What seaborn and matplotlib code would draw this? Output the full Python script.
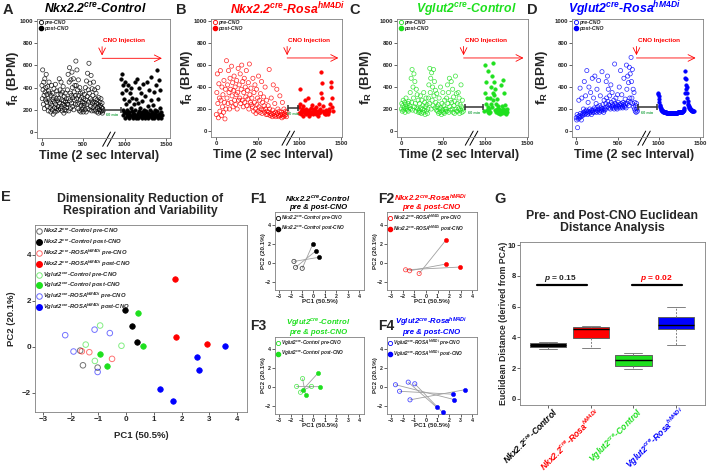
import numpy as np
import pandas as pd
import seaborn as sns
import matplotlib.pyplot as plt
import matplotlib.transforms as mtransforms
from matplotlib.lines import Line2D

sns.set_theme(style="ticks")
plt.rcParams['font.family'] = ['Liberation Sans', 'DejaVu Sans']
plt.rcParams['font.weight'] = 'bold'
plt.rcParams['axes.labelweight'] = 'bold'
plt.rcParams['mathtext.fontset'] = 'custom'
plt.rcParams['mathtext.it'] = 'Liberation Sans:italic:bold'
plt.rcParams['mathtext.rm'] = 'Liberation Sans:bold'
plt.rcParams['mathtext.bf'] = 'Liberation Sans:bold'

BLACK, RED, GREEN, BLUE = '#000000', '#ff0000', '#1ee01e', '#0000ff'

# ---- A-D : respiratory rate (BPM), pre / post CNO ----
a_pre = [420, 300, 560, 380, 250, 450, 330, 210, 480, 360, 290, 400, 520, 270, 340, 230, 410, 300, 190, 370, 450, 280, 350, 220,
         260, 180, 330, 420, 240, 200, 350, 290, 160, 310, 390, 220, 270, 180, 430, 250, 300, 210, 370, 190, 280, 340, 230, 200,
         300, 480, 260, 380, 210, 340, 450, 230, 290, 190, 360, 250, 410, 280, 170, 320, 240, 200, 350, 270, 190, 300, 220, 250,
         380, 250, 520, 300, 190, 450, 580, 280, 350, 210, 470, 330, 260, 540, 400, 230, 310, 480, 200, 360, 290, 420, 250, 330,
         640, 420, 300, 560, 250, 380, 210, 470, 330, 260, 190, 400, 290, 350, 180, 240, 310, 200, 270, 360, 220, 180, 300, 240,
         260, 340, 200, 400, 290, 180, 460, 250, 320, 530, 210, 380, 270, 620, 350, 200, 440, 300, 230, 510, 280, 190, 390, 260,
         330, 220, 450, 270, 190, 380, 240, 300, 200, 350, 260, 180, 290, 220, 400, 250, 170, 310, 230, 200, 270, 180, 240, 300,
         190, 220, 260, 170, 210, 190]
a_post = [480, 520, 350, 200, 420, 150, 300, 180, 450, 130, 250, 170, 380, 140, 200,
          160, 420, 130, 280, 180, 350, 150, 220, 400, 140, 190, 310, 130, 170, 250, 160, 450, 140, 200, 130,
          300, 150, 480, 170, 130, 260, 190, 400, 140, 220, 160, 350, 130, 180, 280, 150, 430, 140, 200, 170,
          130, 320, 160, 190, 140, 450, 170, 230, 130, 380, 150, 200, 140, 290, 160, 500, 130, 180, 240, 150,
          140, 360, 130, 200, 170, 420, 140, 560, 190, 150, 300, 130, 470, 160, 220, 140, 380, 130, 180, 150]

b_pre = [150, 350, 520, 250, 120, 430, 300, 180, 550, 280, 140, 400, 220, 330, 170, 460, 260, 110, 380, 200,
         640, 300, 420, 250, 550, 350, 200, 480, 380, 260, 590, 320, 440, 220, 370, 500, 280, 400, 240, 330, 460, 200, 350, 570, 280,
         420, 300, 520, 250, 380, 600, 280, 450, 220, 350, 480, 260, 400, 310, 550, 230, 370, 290, 440, 200, 610, 330, 260, 390, 240,
         300, 220, 480, 180, 350, 260, 420, 200, 160, 380, 240, 300, 180, 500, 220, 280, 170, 340, 200, 450, 160, 260, 190, 310, 230,
         170, 400, 200, 150, 280,
         180, 150, 230, 170, 560, 200, 140, 160, 300, 150, 130, 190, 420, 160, 140, 250, 170, 130, 150, 380, 160, 200, 140, 130,
         180, 320, 150, 140, 170, 120, 260, 150, 130, 200, 160, 140, 180, 150, 130, 170]
b_post = [220, 160, 380, 250, 180, 150, 200, 170, 140, 230, 190, 160, 280, 150, 200, 170, 180, 300, 160, 140,
          190, 150, 210, 170, 160, 240, 180, 150, 200, 170, 160, 190, 150, 220, 170, 140, 180, 160, 250, 170,
          200, 350, 540, 440, 300, 230, 180, 160, 150, 170, 190, 150,
          160, 180, 150, 170, 200, 180, 250, 400, 450, 300, 220, 180]

c_pre = [200, 250, 180, 230, 280, 190, 210, 260, 170, 240, 300, 200, 220, 190, 250, 180, 270, 210,
         230, 350, 200, 480, 260, 560, 190, 400, 300, 520, 220, 450, 250, 180, 380, 210, 330, 200, 280, 170,
         190, 250, 170, 320, 210, 160, 280, 200, 230, 170, 350, 190, 260, 150, 220, 300, 180, 240, 160, 200,
         300, 420, 250, 570, 350, 480, 200, 530, 280, 400, 230, 560, 320, 450, 210, 370, 260, 190, 340, 220,
         180, 240, 160, 300, 200, 170, 400, 210, 150, 250, 190, 350, 170, 230, 160, 280, 200, 180,
         200, 300, 180, 420, 250, 350, 170, 480, 220, 280, 190, 450, 260, 200, 380, 170, 310, 230, 160, 270, 500, 200, 340, 180,
         250, 180, 350, 200, 300, 160, 240, 190, 420, 220, 170, 280, 200, 180]
c_post = [180, 350, 600, 250, 450, 190, 300, 170, 550, 220, 160,
          200, 170, 300, 250, 400, 220, 500, 350, 620, 280, 450, 330, 190, 380, 250, 170, 290, 200, 160, 230,
          170, 200, 160, 190, 150, 420, 180, 230, 160, 460, 200, 170, 350, 190, 160, 240, 180, 150, 200, 170]

d_pre = [120, 100, 150, 30, 130, 110, 280, 140, 120, 390, 160, 130, 100, 300, 150, 140,
         160, 200, 170, 450, 150, 180, 320, 160, 190, 550, 170, 150, 260, 180, 400, 160, 200, 170, 350, 180, 150, 190, 480, 170,
         190, 300, 170, 210, 500, 180, 200, 250, 170, 380, 190, 220, 180, 460, 200, 170, 230, 320, 190, 210, 180, 540, 200, 240,
         190, 170, 280, 210, 190, 200,
         250, 450, 300, 220, 500, 270, 380, 240, 210, 320, 230, 200, 420, 260, 220, 350, 240, 210, 230, 280, 200, 610, 250, 220,
         300, 210, 240, 200, 330, 230,
         260, 220, 400, 240, 210, 550, 250, 230, 330, 220, 210, 260, 240, 480, 230, 220, 290, 250, 210, 600, 380, 250, 500, 270,
         440, 230, 580, 300, 520, 260,
         670, 450, 300, 560, 250, 380, 220, 350, 200, 260, 180, 230, 170, 250, 200, 180]
d_post = [340, 350, 320, 290, 260, 240, 225, 215, 205, 198, 192, 188, 185, 182, 180,
          178, 176, 175, 174, 172, 171, 170, 170, 169, 168, 168, 167, 167, 166, 166, 166, 165, 165, 165, 165, 164, 164, 164, 164,
          164, 165, 165, 165, 165, 165, 165, 166, 166, 166, 166, 166, 167, 167, 167, 168, 168, 168, 168, 169, 169, 169, 170, 170,
          170, 171, 171, 172, 172, 173, 174, 175, 176, 178, 180, 185,
          195, 210, 260, 350, 550, 480, 380, 420, 470, 400, 350, 300, 270, 250, 235, 225, 215, 210, 205, 200, 198, 195, 192, 190,
          188, 186, 184, 182, 180, 178]

# time spans (2 s samples) of the recordings
a_span = [(0, 740), (960, 1450)]
b_span = [(0, 850), (990, 1400)]
c_span = [(0, 740), (990, 1265)]
d_span = [(0, 740), (990, 1420)]
cno_time = [728, 852, 743, 729]

# ---- E / F : PCA scores ----
nc_pre_pc1, nc_pre_pc2 = [-1.66, -1.56, -1.03], [-0.16, -0.80, -0.90]
nc_post_pc1, nc_post_pc2 = [-0.04, 0.22, 0.39], [1.60, 0.93, 0.23]
nr_pre_pc1, nr_pre_pc2 = [-1.60, -1.33, -0.51], [-0.19, -0.23, -0.52]
nr_post_pc1, nr_post_pc2 = [1.77, 1.78, 2.93], [2.94, 0.42, 0.13]
vc_pre_pc1, vc_pre_pc2 = [-0.94, -1.46, -0.17, -1.13], [0.93, 0.10, 0.05, -0.61]
vc_post_pc1, vc_post_pc2 = [0.41, 0.59, -0.94, -0.69], [1.48, 0.03, -0.29, -0.84]
vr_pre_pc1, vr_pre_pc2 = [-2.20, -1.14, -0.59, -1.90, -1.03], [0.51, 0.75, 0.60, -0.20, -1.09]
vr_post_pc1, vr_post_pc2 = [3.57, 2.57, 2.64, 1.22, 1.69], [0.03, -0.46, -1.00, -1.83, -2.35]

# F panels (pre[i] paired with post[i])
f1_pre_pc1, f1_pre_pc2 = [-1.70, -1.56, -0.98], [0.17, -0.45, -0.55]
f1_post_pc1, f1_post_pc2 = [0.46, 0.23, -0.06], [0.59, 1.28, 1.97]
f2_pre_pc1, f2_pre_pc2 = [-1.75, -1.40, -0.58], [-0.70, -0.80, -1.09]
f2_post_pc1, f2_post_pc2 = [2.90, 1.75, 1.75], [-0.42, -0.10, 2.42]
f3_pre_pc1, f3_pre_pc2 = [-0.95, -1.47, -0.17, -1.13], [0.93, 0.10, 0.10, -0.52]
f3_post_pc1, f3_post_pc2 = [-0.69, 0.58, -0.90, 0.43], [-0.79, 0.07, -0.28, 1.55]
f4_pre_pc1, f4_pre_pc2 = [-2.62, -2.27, -1.52, -0.96, -1.37], [0.28, -0.41, 0.55, 0.38, -1.31]
f4_post_pc1, f4_post_pc2 = [2.42, 2.36, 0.93, 1.43, 3.38], [-1.28, -0.72, -2.10, -2.62, -0.24]

# ---- G : euclidean distances ----
g_groups = ['Nkx2.2 Control', 'Nkx2.2 Rosa', 'Vglut2 Control', 'Vglut2 Rosa']
dist_nkx_ctrl = [3.23, 3.49, 3.72]
dist_nkx_rosa = [3.32, 4.56, 4.73]
dist_vg_ctrl = [1.93, 2.21, 2.85, 2.97]
dist_vg_rosa = [3.50, 4.55, 4.80, 5.30, 5.95]

nkx_ctrl = r"Nkx2.2$^{cre}$-Control"
nkx_rosa = r"Nkx2.2$^{cre}$-Rosa$^{hM4Di}$"
vg_ctrl = r"Vglut2$^{cre}$-Control"
vg_rosa = r"Vglut2$^{cre}$-Rosa$^{hM4Di}$"

W, H = 709, 471
fig = plt.figure(figsize=(W / 100, H / 100), dpi=100)


def add_box(l, t, r, b):
    return fig.add_axes([l / W, 1 - b / H, (r - l) / W, (b - t) / H])


def frame(ax, size):
    for s in ax.spines.values():
        s.set_color('#808080')
        s.set_linewidth(0.6)
    ax.tick_params(labelsize=size, length=2, width=0.5, pad=1)


# ---------------- A-D ----------------
trace_boxes = [(37, 19, 170, 138), (211, 19, 342, 137), (397, 19, 528, 137), (572, 19, 703, 137)]
trace_data = [(a_pre, a_post, a_span), (b_pre, b_post, b_span), (c_pre, c_post, c_span), (d_pre, d_post, d_span)]
trace_colors = [BLACK, RED, GREEN, BLUE]
trace_titles = [nkx_ctrl, nkx_rosa, vg_ctrl, vg_rosa]
title_x = [95, 287, 466, 624]
letter_x = [8, 181, 355, 532]
xlims = [(-60, 1550), (-64, 1512), (-52, 1512), (-52, 1535)]
gaps = [(748, 956, 200), (868, 988, 209), (755, 975, 215), (746, 972, 215)]
arrow_end = [1452, 1468, 1459, 1446]
breaks = [735, 790, 763, 746]
ylab_x = [-0.12, -0.12, -0.175, -0.17]

for i in range(4):
    ax = add_box(*trace_boxes[i])
    pre, post, span = trace_data[i]
    col = trace_colors[i]
    x_pre = np.linspace(span[0][0], span[0][1], len(pre))
    x_post = np.linspace(span[1][0], span[1][1], len(post))
    sns.scatterplot(x=x_pre, y=pre, ax=ax, s=9, facecolors='none', edgecolor=col, linewidth=0.5, alpha=0.85)
    sns.scatterplot(x=x_post, y=post, ax=ax, s=7, color=col, edgecolor=col, linewidth=0.3)
    ax.set_xlim(*xlims[i])
    ax.set_ylim(-55, 1020)
    ax.set_xticks([0, 500, 1000, 1500])
    ax.set_yticks([0, 200, 400, 600, 800, 1000])
    frame(ax, 4.3)
    ax.set_xlabel('Time (2 sec Interval)', fontsize=9)
    ax.xaxis.set_label_coords(0.47, -0.1)
    ax.set_ylabel(r'f$_{\mathrm{R}}$ (BPM)', fontsize=9.5)
    ax.yaxis.set_label_coords(ylab_x[i], 0.5)
    # 60 min gap bar
    g0, g1, gy = gaps[i]
    ax.plot([g0, g1], [gy, gy], color='#333333', lw=1.1, marker='|', ms=5, mew=1.1)
    ax.text((g0 + g1) / 2, gy - 50, '60 min', color='#2aa84a', fontsize=2.8, ha='center', va='center')
    # CNO injection arrows
    xi = cno_time[i]
    ax.annotate('', xy=(xi, 690), xytext=(xi, 770),
                arrowprops=dict(arrowstyle='->', color=RED, lw=0.6, shrinkA=0, shrinkB=0))
    ax.annotate('', xy=(arrow_end[i], 665), xytext=(xi, 665),
                arrowprops=dict(arrowstyle='->', color=RED, lw=0.6, shrinkA=0, shrinkB=0))
    ax.text(xi + 15, 825, 'CNO Injection', color=RED, fontsize=4.6, ha='left', va='center')
    # axis break marks
    trans = ax.get_xaxis_transform()
    for off in (0, 55):
        ax.plot([breaks[i] + off, breaks[i] + off + 95], [-0.07, 0.05], transform=trans,
                color='black', lw=0.7, clip_on=False)
    handles = [Line2D([], [], ls='', marker='o', ms=3, mfc='none', mec=col, mew=0.6),
               Line2D([], [], ls='', marker='o', ms=3, mfc=col, mec=col)]
    ax.legend(handles, ['pre-CNO', 'post-CNO'], loc='upper left', frameon=False,
              prop={'size': 3.8, 'style': 'italic', 'weight': 'bold'},
              handletextpad=0.1, labelspacing=0.15, borderaxespad=0.1, borderpad=0.1, handlelength=1)
    fig.text(title_x[i] / W, 1 - 9 / H, trace_titles[i], color=col, fontsize=8.8,
             style='italic', ha='center', va='center')
    fig.text(letter_x[i] / W, 1 - 10 / H, 'ABCD'[i], fontsize=10.5, ha='center', va='center')

# ---------------- E ----------------
axE = add_box(35, 225, 247, 412)
e_sets = [
    (nc_pre_pc1, nc_pre_pc2, BLACK, False, r"Nkx2.2$^{cre}$-Control pre-CNO"),
    (nc_post_pc1, nc_post_pc2, BLACK, True, r"Nkx2.2$^{cre}$-Control post-CNO"),
    (nr_pre_pc1, nr_pre_pc2, RED, False, r"Nkx2.2$^{cre}$-ROSA$^{hM4Di}$ pre-CNO"),
    (nr_post_pc1, nr_post_pc2, RED, True, r"Nkx2.2$^{cre}$-ROSA$^{hM4Di}$ post-CNO"),
    (vc_pre_pc1, vc_pre_pc2, GREEN, False, r"Vglut2$^{cre}$-Control pre-CNO"),
    (vc_post_pc1, vc_post_pc2, GREEN, True, r"Vglut2$^{cre}$-Control post-CNO"),
    (vr_pre_pc1, vr_pre_pc2, BLUE, False, r"Vglut2$^{cre}$-ROSA$^{hM4Di}$ pre-CNO"),
    (vr_post_pc1, vr_post_pc2, BLUE, True, r"Vglut2$^{cre}$-ROSA$^{hM4Di}$ post-CNO"),
]
e_handles, e_labels = [], []
for px, py, col, filled, lab in e_sets:
    if filled:
        sns.scatterplot(x=px, y=py, ax=axE, s=16, color=col, edgecolor=col, linewidth=0.5)
        e_handles.append(Line2D([], [], ls='', marker='o', ms=4, mfc=col, mec=col))
    else:
        sns.scatterplot(x=px, y=py, ax=axE, s=16, facecolors='none', edgecolor=col, linewidth=0.7, alpha=0.55)
        e_handles.append(Line2D([], [], ls='', marker='o', ms=4, mfc='none', mec=col, mew=0.7, alpha=0.6))
    e_labels.append(lab)
axE.set_xlim(-3.29, 4.36)
axE.set_ylim(-2.83, 5.3)
axE.set_xticks(range(-3, 5))
axE.set_yticks([-2, 0, 2, 4])
frame(axE, 5.8)
axE.set_xlabel('PC1 (50.5%)', fontsize=6.8)
axE.xaxis.set_label_coords(0.5, -0.1)
axE.set_ylabel('PC2 (20.1%)', fontsize=6.8)
axE.yaxis.set_label_coords(-0.09, 0.5)
axE.legend(e_handles, e_labels, loc='upper left', frameon=False,
           prop={'size': 4.2, 'style': 'italic', 'weight': 'bold'},
           handletextpad=0.1, labelspacing=0.12, borderaxespad=0.15, borderpad=0.1, handlelength=1)
fig.text(140 / W, 1 - 205 / H, 'Dimensionality Reduction of\nRespiration and Variability',
         fontsize=8.8, ha='center', va='center', linespacing=1.05)
fig.text(6 / W, 1 - 197 / H, 'E', fontsize=10.5, ha='center', va='center')

# ---------------- F1-F4 ----------------
f_boxes = [(275, 212, 364, 290), (387, 212, 477, 290), (275, 337, 364, 414), (387, 337, 477, 414)]
f_data = [(f1_pre_pc1, f1_pre_pc2, f1_post_pc1, f1_post_pc2),
          (f2_pre_pc1, f2_pre_pc2, f2_post_pc1, f2_post_pc2),
          (f3_pre_pc1, f3_pre_pc2, f3_post_pc1, f3_post_pc2),
          (f4_pre_pc1, f4_pre_pc2, f4_post_pc1, f4_post_pc2)]
f_leg = [r"Nkx2.2$^{cre}$-Control", r"Nkx2.2$^{cre}$-ROSA$^{hM4Di}$",
         r"Vglut2$^{cre}$-Control", r"Vglut2$^{cre}$-ROSA$^{hM4Di}$"]
f_title_pos = [(318, 202), (431, 202), (318, 326), (431, 326)]
f_letter_pos = [(258, 199), (386, 199), (258, 326), (386, 326)]
for i in range(4):
    ax = add_box(*f_boxes[i])
    col = trace_colors[i]
    x0, y0, x1, y1 = f_data[i]
    for k in range(len(x0)):
        ax.plot([x0[k], x1[k]], [y0[k], y1[k]], color='#a0a0a0', lw=0.6, zorder=1)
    sns.scatterplot(x=x0, y=y0, ax=ax, s=9, facecolors='none', edgecolor=col, linewidth=0.6, alpha=0.7, zorder=3)
    sns.scatterplot(x=x1, y=y1, ax=ax, s=9, color=col, edgecolor=col, linewidth=0.4, zorder=3)
    ax.set_xlim(-3.35, 4.4)
    ax.set_ylim(-2.8, 5.3)
    ax.set_xticks(range(-3, 5))
    ax.set_yticks([-2, 0, 2, 4])
    frame(ax, 3.8)
    ax.set_xlabel('PC1 (50.5%)', fontsize=4.5)
    ax.xaxis.set_label_coords(0.5, -0.12)
    ax.set_ylabel('PC2 (20.1%)', fontsize=4.5)
    ax.yaxis.set_label_coords(-0.1, 0.5)
    handles = [Line2D([], [], ls='', marker='o', ms=3, mfc='none', mec=col, mew=0.6),
               Line2D([], [], ls='', marker='o', ms=3, mfc=col, mec=col)]
    ax.legend(handles, [f_leg[i] + ' pre-CNO', f_leg[i] + ' post-CNO'], loc='upper left', frameon=False,
              prop={'size': 3.4, 'style': 'italic', 'weight': 'bold'},
              handletextpad=0.1, labelspacing=0.1, borderaxespad=0.1, borderpad=0.1, handlelength=1)
    tx, ty = f_title_pos[i]
    fig.text(tx / W, 1 - ty / H, trace_titles[i] + '\npre & post-CNO', color=col, fontsize=5.6,
             style='italic', ha='center', va='center', linespacing=1.05)
    lx, ly = f_letter_pos[i]
    fig.text(lx / W, 1 - ly / H, 'F%d' % (i + 1), fontsize=10, ha='center', va='center')

# ---------------- G ----------------
axG = add_box(520, 242, 705, 405)
g_df = pd.DataFrame({
    'group': [g_groups[0]] * len(dist_nkx_ctrl) + [g_groups[1]] * len(dist_nkx_rosa)
             + [g_groups[2]] * len(dist_vg_ctrl) + [g_groups[3]] * len(dist_vg_rosa),
    'dist': dist_nkx_ctrl + dist_nkx_rosa + dist_vg_ctrl + dist_vg_rosa,
})
sns.boxplot(data=g_df, x='group', y='dist', hue='group', order=g_groups, hue_order=g_groups,
            palette=trace_colors, saturation=1, width=0.85, linewidth=0.7, linecolor='#606060',
            showfliers=False, legend=False, ax=axG,
            whiskerprops=dict(ls=(0, (2, 1.5)), color='#808080'),
            capprops=dict(color='#808080'),
            medianprops=dict(color='black', lw=1.0))
axG.set_xlim(-0.66, 3.68)
axG.set_ylim(-0.4, 10.2)
axG.set_yticks([0, 2, 4, 6, 8, 10])
frame(axG, 5.5)
axG.set_xlabel('')
axG.set_ylabel('Euclidean Distance (derived from PCA)', fontsize=6.3)
axG.yaxis.set_label_coords(-0.065, 0.5)
axG.set_xticks(range(4))
axG.set_xticklabels(trace_titles, rotation=45, ha='right', va='center', rotation_mode='anchor',
                    fontsize=6.2, style='italic')
offset = mtransforms.ScaledTranslation(6 / 72, -1 / 72, fig.dpi_scale_trans)
for lab, col in zip(axG.get_xticklabels(), trace_colors):
    lab.set_color(col)
    lab.set_transform(lab.get_transform() + offset)
axG.plot([-0.26, 0.91], [7.4, 7.4], color='black', lw=1.6)
axG.plot([1.97, 3.14], [7.4, 7.4], color='black', lw=1.6)
axG.text(0.3, 7.85, r'$p$ = 0.15', fontsize=6, ha='center', va='center')
axG.text(2.55, 7.85, r'$p$ = 0.02', fontsize=6, ha='center', va='center', color=RED)
fig.text(612 / W, 1 - 222 / H, 'Pre- and Post-CNO Euclidean\nDistance Analysis',
         fontsize=8.8, ha='center', va='center', linespacing=1.05)
fig.text(500 / W, 1 - 199 / H, 'G', fontsize=10.5, ha='center', va='center')

fig.savefig('out.png', dpi=100)
